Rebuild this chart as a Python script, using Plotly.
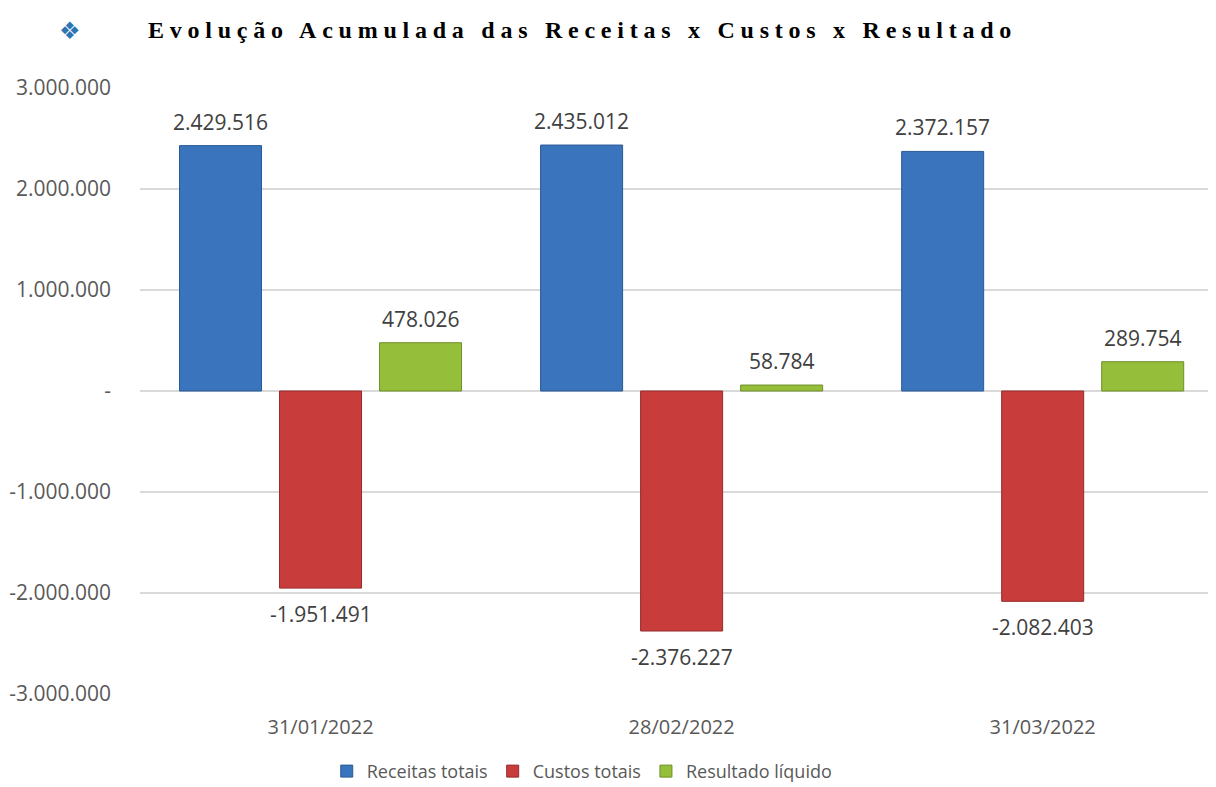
import plotly.graph_objects as go

categories = ["31/01/2022", "28/02/2022", "31/03/2022"]
series_names = ["Receitas totais", "Custos totais", "Resultado líquido"]
receitas = [2429516, 2435012, 2372157]
custos = [-1951491, -2376227, -2082403]
resultado = [478026, 58784, 289754]
tick_values = [3000000, 2000000, 1000000, 0, -1000000, -2000000, -3000000]
tick_labels = ["3.000.000", "2.000.000", "1.000.000", "-", "-1.000.000", "-2.000.000", "-3.000.000"]
title_text = "Evolução Acumulada das Receitas x Custos x Resultado"

colors = ["#3A74BC", "#C93C3C", "#95BE3B"]
line_colors = ["#2A5A96", "#962A2A", "#6E8F28"]

def fmt(v):
    s = f"{abs(v):,}".replace(",", ".")
    return ("-" if v < 0 else "") + s

fig = go.Figure()
all_series = [receitas, custos, resultado]
for name, vals, c, lc in zip(series_names, all_series, colors, line_colors):
    fig.add_trace(go.Bar(
        x=categories, y=vals, name=name,
        marker=dict(color=c, line=dict(color=lc, width=1)),
        hoverinfo="x+y",
    ))

# data labels
offsets = [-1, 0, 1]
for k, vals in enumerate(all_series):
    for cat, v in zip(categories, vals):
        fig.add_annotation(
            x=cat, y=v, xref="x", yref="y",
            text=fmt(v), showarrow=False,
            xshift=offsets[k] * 100,
            yshift=24 if v >= 0 else -26,
            font=dict(family="Open Sans", size=21, color="#404040"),
        )

fig.add_annotation(
    xref="paper", yref="paper", x=-0.065, xanchor="center", y=1.0, yanchor="middle", yshift=57,
    text="❖", showarrow=False, font=dict(family="DejaVu Sans", size=24, color="#2E75B6"),
)

fig.add_annotation(
    xref="paper", yref="paper", x=0.006, xanchor="left", y=1.0, yanchor="middle",
    yshift=58,
    text="<b><span style='letter-spacing:5.75px'>" + title_text + "</span></b>",
    showarrow=False,
    font=dict(family="Liberation Serif", size=24, color="#000000"),
)

fig.update_layout(
    width=1208, height=779,
    margin=dict(l=132, r=0, t=80, b=93, autoexpand=False),
    paper_bgcolor="white", plot_bgcolor="white",
    barmode="group", bargap=0.169, bargroupgap=0.18,
    showlegend=True,
    legend=dict(orientation="h", x=0.411, xanchor="center", yref="container", y=0.02, yanchor="middle",
                font=dict(family="Open Sans", size=18, color="#595959"),
                itemclick=False),
    xaxis=dict(range=[-0.5, 2.48], showgrid=False, showline=False, zeroline=False, automargin=False,
               ticks="", tickfont=dict(family="Open Sans", size=20, color="#595959"),
               ticklabelstandoff=19),
    yaxis=dict(range=[-3000000, 3000000], tickvals=tick_values, ticktext=tick_labels, automargin=False,
               showgrid=True, gridcolor="#D9D9D9", gridwidth=1.5,
               zeroline=True, zerolinecolor="#D9D9D9", zerolinewidth=1.5,
               showline=False, ticks="",
               tickfont=dict(family="Open Sans", size=21, color="#595959"),
               ticklabelstandoff=28),
)

fig.write_html("out.html")
